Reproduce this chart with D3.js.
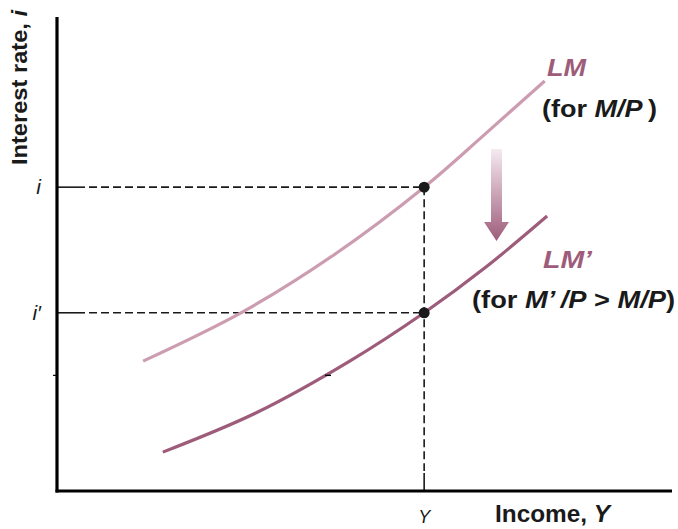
<!DOCTYPE html>
<html>
<head>
<meta charset="utf-8">
<script src="https://cdn.jsdelivr.net/npm/d3@7"></script>
<style>
  html, body { margin: 0; padding: 0; background: #fff; }
  svg { display: block; font-family: "Liberation Sans", Arial, Helvetica, sans-serif; }
</style>
</head>
<body>
<svg id="chart" width="678" height="529"></svg>
<script>
// Income (x) and interest rate (y) in abstract units 0..100
const lmIncome    = [14.0, 30.2, 45.0, 59.7, 69.6, 79.3];
const lmRate      = [27.4, 37.8, 49.8, 64.1, 75.3, 86.5];
const lmPIncome   = [17.2, 32.4, 47.6, 59.7, 69.8, 79.7];
const lmPRate     = [8.2, 16.5, 27.4, 37.6, 47.3, 58.0];
const eqIncome    = 59.7;           // Y
const eqRates     = [64.1, 37.6];   // i, i'
const rateTicks   = ["i", "i\u2032"];
const minorTick   = 24.4;

const svg = d3.select("#chart");
const x = d3.scaleLinear().domain([0, 100]).range([57, 672]);
const y = d3.scaleLinear().domain([0, 100]).range([491, 17]);

const cLight = "#cc9db1";
const cDark  = "#9e5c7b";
const ink = "#1a1a1a";

// gradient for the shift arrow
const defs = svg.append("defs");
const grad = defs.append("linearGradient").attr("id", "arrowGrad")
  .attr("x1", 0).attr("y1", 0).attr("x2", 0).attr("y2", 1);
grad.append("stop").attr("offset", "0%").attr("stop-color", "#f5eaef");
grad.append("stop").attr("offset", "100%").attr("stop-color", "#9e5c7b");

// dashed guides to the equilibrium points
eqRates.forEach(r => {
  svg.append("line").attr("x1", x(0)).attr("x2", x(0) + 28)
    .attr("y1", y(r)).attr("y2", y(r)).attr("stroke", ink).attr("stroke-width", 1.6);
  svg.append("line").attr("x1", x(0) + 32).attr("x2", x(eqIncome))
    .attr("y1", y(r)).attr("y2", y(r)).attr("stroke", ink).attr("stroke-width", 1.6)
    .attr("stroke-dasharray", "8,4");
});
svg.append("line").attr("x1", x(eqIncome)).attr("x2", x(eqIncome))
  .attr("y1", y(eqRates[0])).attr("y2", y(0) - 20)
  .attr("stroke", ink).attr("stroke-width", 1.6).attr("stroke-dasharray", "8,4");
svg.append("line").attr("x1", x(eqIncome)).attr("x2", x(eqIncome))
  .attr("y1", y(0) - 18).attr("y2", y(0))
  .attr("stroke", ink).attr("stroke-width", 1.6);

// LM curves
const line = d3.line().x(d => x(d[0])).y(d => y(d[1])).curve(d3.curveCatmullRom);
svg.append("path").datum(d3.zip(lmIncome, lmRate)).attr("d", line)
  .attr("fill", "none").attr("stroke", cLight).attr("stroke-width", 3.2);
svg.append("path").datum(d3.zip(lmPIncome, lmPRate)).attr("d", line)
  .attr("fill", "none").attr("stroke", cDark).attr("stroke-width", 3.2);

// equilibrium dots
svg.selectAll("circle.eq").data(eqRates).join("circle")
  .attr("cx", x(eqIncome)).attr("cy", d => y(d)).attr("r", 5.5).attr("fill", ink);

// axes
svg.append("line").attr("x1", x(0)).attr("x2", x(0)).attr("y1", y(100)).attr("y2", y(0) + 1.5)
  .attr("stroke", "#000").attr("stroke-width", 3.2);
svg.append("line").attr("x1", x(0) - 1.5).attr("x2", x(100)).attr("y1", y(0)).attr("y2", y(0))
  .attr("stroke", "#000").attr("stroke-width", 3.2);
svg.append("line").attr("x1", x(0) - 4).attr("x2", x(0)).attr("y1", y(minorTick)).attr("y2", y(minorTick))
  .attr("stroke", "#000").attr("stroke-width", 1.2);
svg.append("line").attr("x1", 325).attr("x2", 331).attr("y1", y(minorTick)).attr("y2", y(minorTick))
  .attr("stroke", "#000").attr("stroke-width", 1.4);

// shift arrow
const ax = 496.5, aTop = 149, aNeck = 222, aTip = 241;
svg.append("path")
  .attr("d", `M${ax - 5.5},${aTop} L${ax + 5.5},${aTop} L${ax + 5.5},${aNeck} L${ax + 12.5},${aNeck} L${ax},${aTip} L${ax - 12.5},${aNeck} L${ax - 5.5},${aNeck} Z`)
  .attr("fill", "url(#arrowGrad)");

// axis titles
svg.append("text").attr("transform", "translate(27,165) rotate(-90)")
  .attr("font-size", 22).attr("font-weight", "bold").attr("fill", ink)
  .attr("textLength", 155).attr("lengthAdjust", "spacingAndGlyphs")
  .html('Interest rate, <tspan font-style="italic">i</tspan>');
svg.append("text").attr("x", 495).attr("y", 522)
  .attr("font-size", 23).attr("font-weight", "bold").attr("fill", ink)
  .attr("textLength", 115).attr("lengthAdjust", "spacingAndGlyphs")
  .html('Income, <tspan font-style="italic">Y</tspan>');

// tick labels
svg.selectAll("text.rt").data(eqRates).join("text")
  .attr("x", 41).attr("y", d => y(d) + 7)
  .attr("text-anchor", "end").attr("font-size", 21).attr("font-style", "italic").attr("fill", ink)
  .text((d, i) => rateTicks[i]);
svg.append("text").attr("x", x(eqIncome)).attr("y", 523).attr("text-anchor", "middle")
  .attr("font-size", 18).attr("font-style", "italic").attr("fill", ink).text("Y");

// curve labels
svg.append("text").attr("x", 547).attr("y", 76).attr("font-size", 24)
  .attr("font-weight", "bold").attr("font-style", "italic").attr("fill", cDark)
  .attr("textLength", 39).attr("lengthAdjust", "spacingAndGlyphs").text("LM");
svg.append("text").attr("x", 542).attr("y", 117).attr("font-size", 24)
  .attr("font-weight", "bold").attr("fill", ink)
  .attr("textLength", 115).attr("lengthAdjust", "spacingAndGlyphs")
  .html('(for <tspan font-style="italic">M/P</tspan>\u2009)');
svg.append("text").attr("x", 543).attr("y", 268).attr("font-size", 24)
  .attr("font-weight", "bold").attr("font-style", "italic").attr("fill", cDark)
  .attr("textLength", 49).attr("lengthAdjust", "spacingAndGlyphs").text("LM\u2019");
svg.append("text").attr("x", 472).attr("y", 308).attr("font-size", 24)
  .attr("font-weight", "bold").attr("fill", ink)
  .attr("textLength", 203).attr("lengthAdjust", "spacingAndGlyphs")
  .html('(for <tspan font-style="italic">M\u2019\u2009/P</tspan> &gt; <tspan font-style="italic">M/P</tspan>)');
</script>
</body>
</html>
